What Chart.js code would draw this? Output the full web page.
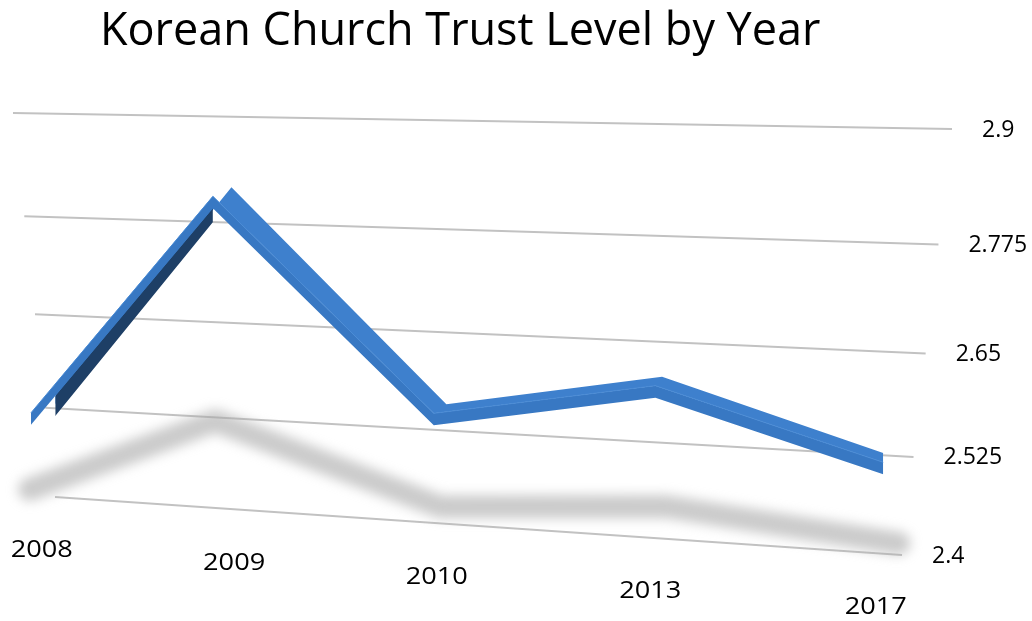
<!DOCTYPE html>
<html>
<head>
<meta charset="utf-8">
<title>Korean Church Trust Level by Year</title>
<script src="https://cdn.jsdelivr.net/npm/chart.js@4.4.1/dist/chart.umd.min.js"></script>
<style>
  html, body { margin: 0; padding: 0; background: #fff; }
  #wrap { width: 1032px; height: 621px; }
</style>
</head>
<body>
<div id="wrap"><canvas id="trustChart" width="1032" height="621"></canvas></div>
<script>
const chartTitle = 'Korean Church Trust Level by Year';
const years = ['2008', '2009', '2010', '2013', '2017'];
const trust = [2.51, 2.80, 2.54, 2.59, 2.51];
const tickValues = [2.4, 2.525, 2.65, 2.775, 2.9];
const tickLabels = ['2.4', '2.525', '2.65', '2.775', '2.9'];

// back wall of the 3D plot, corners in canvas pixels
const wall = { bl: [55, 497], br: [902, 555], tr: [952, 129], tl: [13, 113] };
// where the first and last category sit across the wall (0 = left edge, 1 = right edge)
const catFirst = -0.02, catLast = 0.97;

// square -> quad perspective mapping
function makeProjection(q) {
  const [x0, y0] = q.bl, [x1, y1] = q.br, [x2, y2] = q.tr, [x3, y3] = q.tl;
  const dx1 = x1 - x2, dx2 = x3 - x2, dx3 = x0 - x1 + x2 - x3;
  const dy1 = y1 - y2, dy2 = y3 - y2, dy3 = y0 - y1 + y2 - y3;
  const den = dx1 * dy2 - dx2 * dy1;
  const g = (dx3 * dy2 - dx2 * dy3) / den;
  const h = (dx1 * dy3 - dx3 * dy1) / den;
  const a = x1 - x0 + g * x1, b = x3 - x0 + h * x3;
  const d = y1 - y0 + g * y1, e = y3 - y0 + h * y3;
  return (u, v) => {
    const w = g * u + h * v + 1;
    return { x: (a * u + b * v + x0) / w, y: (d * u + e * v + y0) / w };
  };
}

const project = makeProjection(wall);
const vMin = tickValues[0], vMax = tickValues[tickValues.length - 1];
const toV = val => (val - vMin) / (vMax - vMin);
const catU = i => catFirst + i * (catLast - catFirst) / (years.length - 1);

// ribbon geometry: front-top edge, thickness and depth of the 3D band
const anchors = trust.map((val, i) => project(catU(i), toV(val)));
const thick = 12;
const depth = i => ({ x: 24 * (1 - catU(i)), y: -9 });
const edge = (dy, withDepth) => anchors.map((p, i) => {
  const dd = withDepth ? depth(i) : { x: 0, y: 0 };
  return { x: p.x + dd.x, y: p.y - 5 + dy + dd.y };
});

const frontTop = edge(0, false);
const frontBottom = edge(thick, false);
const backTop = edge(0, true);
const backBottom = edge(thick, true);

// underside only shows on the segments that climb steeply
function undersideColor(c) {
  const dx = c.p1.x - c.p0.x, dy = c.p1.y - c.p0.y;
  const d = depth(c.p0DataIndex);
  return (-dy * d.x + dx * d.y) > 0 ? '#1e3f66' : 'rgba(0,0,0,0)';
}

// soft floor shadow cast by the ribbon
const shadowPts = anchors.map(p => ({ x: p.x * 1.02 - 2, y: 0.352 * p.y + 0.0428 * p.x + 341 }));

const datasets = [];
tickValues.forEach(t => {
  datasets.push({
    data: [project(0, toV(t)), project(1, toV(t))],
    borderColor: '#c2c2c2', borderWidth: 2, pointRadius: 0, fill: false, order: 20
  });
});
datasets.push({
  data: shadowPts, blur: 6,
  borderColor: 'rgba(168,168,168,0.6)', borderWidth: 23,
  borderCapStyle: 'round', borderJoinStyle: 'round',
  pointRadius: 0, fill: false, order: 15
});
const iBackBottom = datasets.length;
datasets.push({ data: backBottom, borderWidth: 0, pointRadius: 0, fill: false, order: 14 });
const iBackTop = datasets.length;
datasets.push({ data: backTop, borderWidth: 0, pointRadius: 0, fill: false, order: 13 });
// top face
datasets.push({
  data: frontTop, borderWidth: 0, pointRadius: 0,
  fill: iBackTop, backgroundColor: '#3e80cd', order: 7
});
const iFrontBottom = datasets.length;
// underside of the band
datasets.push({
  data: frontBottom, borderWidth: 0, pointRadius: 0,
  fill: iBackBottom, backgroundColor: '#1e3f66',
  segment: { backgroundColor: undersideColor }, order: 6
});
// front face
datasets.push({
  data: frontTop, borderColor: '#4a8bd5', borderWidth: 1, pointRadius: 0,
  fill: iFrontBottom, backgroundColor: '#3878c3', order: 4
});

const blurPlugin = {
  id: 'blurPlugin',
  beforeDatasetDraw(chart, args) {
    const ds = chart.data.datasets[args.index];
    if (ds.blur) { chart.ctx.save(); chart.ctx.filter = `blur(${ds.blur}px)`; }
  },
  afterDatasetDraw(chart, args) {
    if (chart.data.datasets[args.index].blur) chart.ctx.restore();
  }
};

function stretchedText(ctx, text, x, y, sx) {
  ctx.save();
  ctx.translate(x, y);
  ctx.scale(sx, 1);
  ctx.fillText(text, 0, 0);
  ctx.restore();
}

const labelPlugin = {
  id: 'labelPlugin',
  afterDraw(chart) {
    const ctx = chart.ctx;
    ctx.save();
    ctx.fillStyle = '#000';
    ctx.textAlign = 'left';
    ctx.textBaseline = 'alphabetic';
    ctx.font = '45px "Open Sans"';
    ctx.fillText(chartTitle, 100, 45);

    ctx.font = '23px "Open Sans"';
    ctx.textBaseline = 'middle';
    tickValues.forEach((t, i) => {
      const p = project(1, toV(t));
      ctx.fillText(tickLabels[i], p.x + 30, p.y + 1);
    });

    ctx.textAlign = 'center';
    years.forEach((yr, i) => {
      const p = project(catU(i), 0);
      stretchedText(ctx, yr, p.x + 2, p.y + 54, 1.18);
    });
    ctx.restore();
  }
};

new Chart(document.getElementById('trustChart'), {
  type: 'line',
  data: { datasets },
  options: {
    responsive: false,
    animation: false,
    layout: { padding: 0 },
    elements: { line: { tension: 0 } },
    scales: {
      x: { type: 'linear', min: 0, max: 1032, display: false },
      y: { type: 'linear', min: 0, max: 621, reverse: true, display: false }
    },
    plugins: {
      legend: { display: false },
      tooltip: { enabled: false },
      title: { display: false }
    }
  },
  plugins: [blurPlugin, labelPlugin]
});
</script>
</body>
</html>
